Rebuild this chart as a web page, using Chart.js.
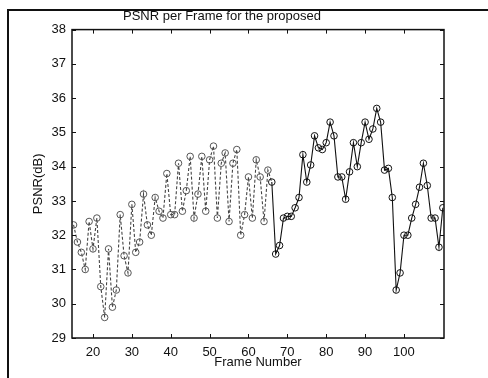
<!DOCTYPE html>
<html>
<head>
<meta charset="utf-8">
<script src="https://cdn.jsdelivr.net/npm/chart.js@4/dist/chart.umd.min.js"></script>
<style>
    html, body { margin: 0; padding: 0; background: #fff; }
    #wrap { position: relative; width: 488px; height: 378px; overflow: hidden; }
    #frame { position: absolute; left: 7px; top: 9px; width: 520px; height: 420px;
             border-left: 2px solid #111; border-top: 2px solid #111; }
    canvas { position: absolute; left: 0; top: 0; }
</style>
</head>
<body>
<div id="wrap">
    <div id="frame"></div>
    <canvas id="psnrChart" width="488" height="378"></canvas>
</div>
<script>
// Datos: PSNR por cuadro
const frames = [
    15, 16, 17, 18, 19, 20, 21, 22, 23, 24,
    25, 26, 27, 28, 29, 30, 31, 32, 33, 34,
    35, 36, 37, 38, 39, 40, 41, 42, 43, 44,
    45, 46, 47, 48, 49, 50, 51, 52, 53, 54,
    55, 56, 57, 58, 59, 60, 61, 62, 63, 64,
    65, 66, 67, 68, 69, 70, 71, 72, 73, 74,
    75, 76, 77, 78, 79, 80, 81, 82, 83, 84,
    85, 86, 87, 88, 89, 90, 91, 92, 93, 94,
    95, 96, 97, 98, 99, 100, 101, 102, 103, 104,
    105, 106, 107, 108, 109, 110
];
const psnr = [
    32.3, 31.8, 31.5, 31.0, 32.4, 31.6, 32.5, 30.5, 29.6, 31.6,
    29.9, 30.4, 32.6, 31.4, 30.9, 32.9, 31.5, 31.8, 33.2, 32.3,
    32.0, 33.1, 32.7, 32.5, 33.8, 32.6, 32.6, 34.1, 32.7, 33.3,
    34.3, 32.5, 33.2, 34.3, 32.7, 34.2, 34.6, 32.5, 34.1, 34.4,
    32.4, 34.1, 34.5, 32.0, 32.6, 33.7, 32.5, 34.2, 33.7, 32.4,
    33.9, 33.55, 31.45, 31.7, 32.5, 32.55, 32.55, 32.8, 33.1, 34.35,
    33.55, 34.05, 34.9, 34.55, 34.5, 34.7, 35.3, 34.9, 33.7, 33.7,
    33.05, 33.85, 34.7, 34.0, 34.7, 35.3, 34.8, 35.1, 35.7, 35.3,
    33.9, 33.95, 33.1, 30.4, 30.9, 32.0, 32.0, 32.5, 32.9, 33.4,
    34.1, 33.45, 32.5, 32.5, 31.65, 32.8
];
const xTicks = [20, 30, 40, 50, 60, 70, 80, 90, 100];
const yTicks = [29, 30, 31, 32, 33, 34, 35, 36, 37, 38];

const FONT = "'Liberation Sans', Arial, sans-serif";

// Caja de ejes estilo MATLAB con marcas hacia dentro
const axisBox = {
    id: 'axisBox',
    afterDraw(chart) {
        const { ctx, chartArea: a, scales: { x, y } } = chart;
        const len = 4;
        ctx.save();
        ctx.strokeStyle = '#111';
        ctx.lineWidth = 1.5;
        ctx.strokeRect(a.left, a.top, a.right - a.left, a.bottom - a.top);
        ctx.lineWidth = 1;
        ctx.beginPath();
        xTicks.forEach(v => {
            const px = Math.round(x.getPixelForValue(v)) + 0.5;
            ctx.moveTo(px, a.bottom); ctx.lineTo(px, a.bottom - len);
            ctx.moveTo(px, a.top); ctx.lineTo(px, a.top + len);
        });
        yTicks.forEach(v => {
            const py = Math.round(y.getPixelForValue(v)) + 0.5;
            ctx.moveTo(a.left, py); ctx.lineTo(a.left + len, py);
            ctx.moveTo(a.right, py); ctx.lineTo(a.right - len, py);
        });
        ctx.stroke();
        ctx.restore();
    }
};

const ctx = document.getElementById('psnrChart').getContext('2d');
new Chart(ctx, {
    type: 'line',
    data: {
        datasets: [{
            label: 'PSNR',
            data: frames.map((f, i) => ({ x: f, y: psnr[i] })),
            borderColor: '#111',
            borderWidth: 1.1,
            pointRadius: 3.3,
            pointBorderWidth: 1,
            pointBorderColor: c => (c.raw && c.raw.x < 66 ? '#555' : '#111'),
            pointBackgroundColor: 'rgba(0,0,0,0)',
            tension: 0,
            segment: {
                borderDash: c => (c.p1.parsed.x <= 66 ? [3, 2] : undefined),
                borderColor: c => (c.p1.parsed.x <= 66 ? '#444' : '#111')
            }
        }]
    },
    options: {
        responsive: false,
        animation: false,
        layout: { padding: { left: 0, right: 44, top: 0, bottom: 0 } },
        scales: {
            x: {
                type: 'linear',
                min: 14.6,
                max: 110.3,
                afterBuildTicks: s => { s.ticks = xTicks.map(v => ({ value: v })); },
                afterFit: s => { s.height = 40; },
                grid: { display: false, drawTicks: false },
                border: { display: false },
                ticks: { color: '#111', padding: 7, font: { family: FONT, size: 13 } },
                title: {
                    display: true,
                    text: 'Frame Number',
                    color: '#111',
                    padding: { top: 0, bottom: 8 },
                    font: { family: FONT, size: 13 }
                }
            },
            y: {
                min: 29,
                max: 38,
                afterBuildTicks: s => { s.ticks = yTicks.map(v => ({ value: v })); },
                afterFit: s => { s.width = 72; },
                grid: { display: false, drawTicks: false },
                border: { display: false },
                ticks: { color: '#111', padding: 6, font: { family: FONT, size: 13 } },
                title: {
                    display: true,
                    text: 'PSNR(dB)',
                    color: '#111',
                    padding: { top: 31, bottom: 0 },
                    font: { family: FONT, size: 13 }
                }
            }
        },
        plugins: {
            legend: { display: false },
            tooltip: { enabled: false },
            title: {
                display: true,
                text: 'PSNR per Frame for the proposed',
                color: '#111',
                padding: { top: 9, bottom: 5 },
                font: { family: FONT, size: 13, weight: 'normal' }
            }
        }
    },
    plugins: [axisBox]
});
</script>
</body>
</html>
